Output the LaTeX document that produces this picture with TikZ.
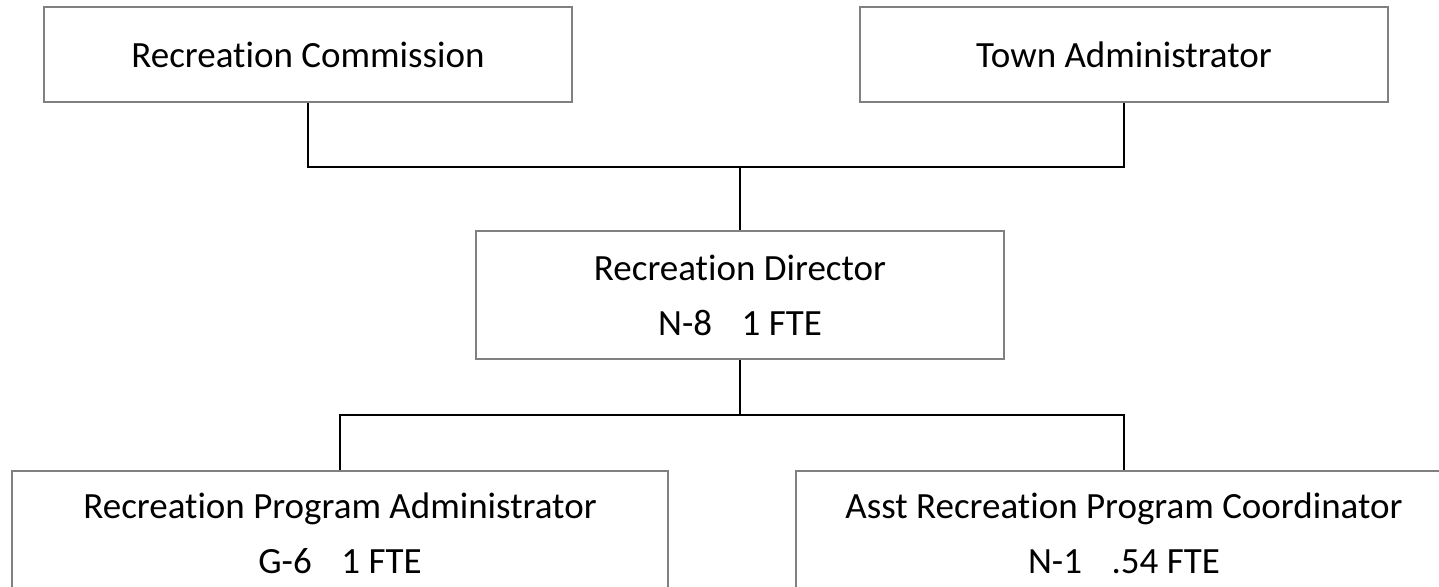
\documentclass[tikz,border=0pt]{standalone}
\usepackage{fontspec}
\setmainfont{Carlito}[Ligatures=NoCommon]
\definecolor{boxgray}{RGB}{128,128,128}
\begin{document}
\begin{tikzpicture}[x=0.5pt, y=-0.5pt,
      block/.style = {
        rectangle, draw=boxgray, line width=0.8pt, align=center, inner sep=0pt,
        minimum width=264pt, minimum height=47.75pt,
        font=\fontsize{18.5pt}{27.5pt}\selectfont },
      block-wide/.style = {
        block, minimum width=328pt, minimum height=62pt },
      line/.style = { draw, black, line width=1pt }]
    \useasboundingbox (0,0) rectangle (1439,587);
    \clip (0,0) rectangle (1439,587);
    \node [block] (comm) at (308, 54.5) {Recreation Commission};
    \node [block] (townadmin) at (1124, 54.5) {Town Administrator};
    \node [block, minimum height=64pt] (director) at (740, 295) {Recreation Director\\ N-8\hspace{0.8em}1 FTE};
    \node [block-wide] (progadmin) at (340, 533) {Recreation Program Administrator\\ G-6\hspace{0.8em}1 FTE};
    \node [block-wide] (asstcoord) at (1124, 533) {Asst Recreation Program Coordinator\\ N-1\hspace{0.8em}.54 FTE};
    \coordinate (topjoin) at (740, 167);
    \coordinate (botjoin) at (740, 415);
    % connect all nodes defined above
    \draw[line] (comm.south) |- (topjoin) -| (townadmin.south);
    \draw[line] (topjoin) -- (director.north);
    \draw[line] (director.south) -- (botjoin);
    \draw[line] (progadmin.north) |- (botjoin) -| (asstcoord.north);
  \end{tikzpicture}
\end{document}
